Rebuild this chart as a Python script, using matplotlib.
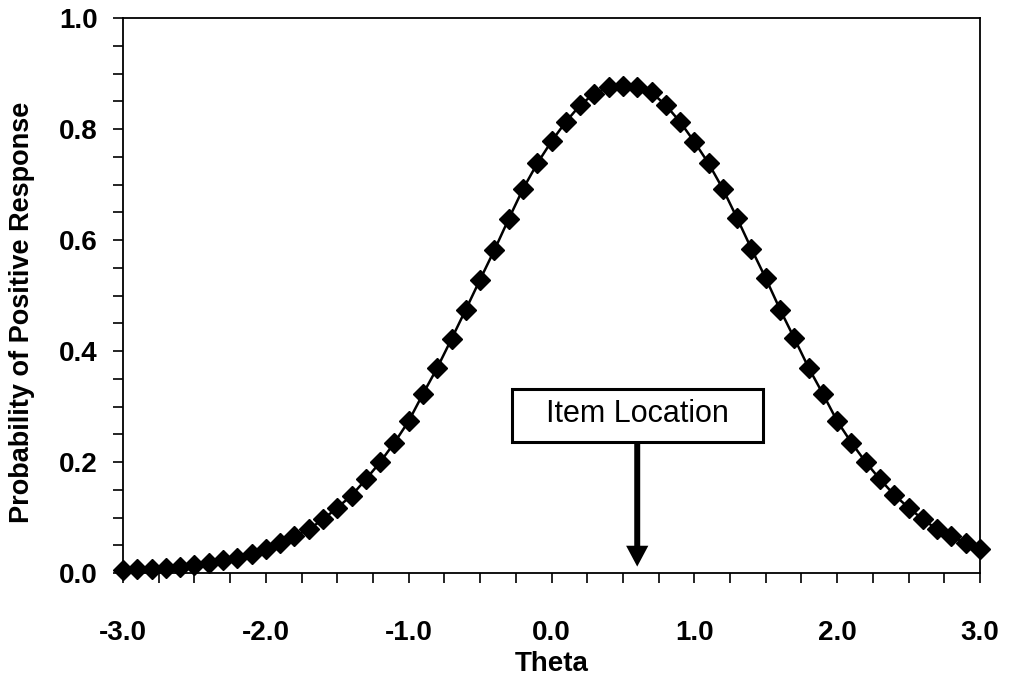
import numpy as np
import matplotlib.pyplot as plt
from matplotlib.patches import Rectangle
from matplotlib.ticker import MultipleLocator, FormatStrFormatter

# theta grid and probabilities
theta = [-3.0, -2.9, -2.8, -2.7, -2.6, -2.5, -2.4, -2.3, -2.2, -2.1,
         -2.0, -1.9, -1.8, -1.7, -1.6, -1.5, -1.4, -1.3, -1.2, -1.1,
         -1.0, -0.9, -0.8, -0.7, -0.6, -0.5, -0.4, -0.3, -0.2, -0.1,
         0.0, 0.1, 0.2, 0.3, 0.4, 0.5, 0.6, 0.7, 0.8, 0.9,
         1.0, 1.1, 1.2, 1.3, 1.4, 1.5, 1.6, 1.7, 1.8, 1.9,
         2.0, 2.1, 2.2, 2.3, 2.4, 2.5, 2.6, 2.7, 2.8, 2.9, 3.0]
prob = [0.006, 0.007, 0.008, 0.010, 0.011, 0.014, 0.019, 0.023, 0.028, 0.035,
        0.044, 0.054, 0.067, 0.079, 0.097, 0.118, 0.140, 0.169, 0.200, 0.235,
        0.274, 0.323, 0.370, 0.422, 0.475, 0.529, 0.582, 0.638, 0.692, 0.738,
        0.778, 0.813, 0.843, 0.864, 0.875, 0.878, 0.875, 0.866, 0.843, 0.813,
        0.777, 0.738, 0.692, 0.639, 0.584, 0.531, 0.475, 0.423, 0.370, 0.323,
        0.274, 0.235, 0.200, 0.169, 0.141, 0.118, 0.097, 0.079, 0.067, 0.054, 0.044]

item_location = 0.6
box_label = "Item Location"

tick_font = ['Liberation Sans Narrow', 'Liberation Sans', 'DejaVu Sans']

fig = plt.figure(figsize=(10.09, 6.8), dpi=100)
ax = fig.add_axes([0.1219, 0.157, 0.8494, 0.8165])

ax.plot(theta, prob, color='black', lw=1.8, marker='D', markersize=10.5,
        clip_on=False, zorder=3)

ax.set_xlim(-3, 3)
ax.set_ylim(0, 1)

ax.xaxis.set_major_locator(MultipleLocator(1.0))
ax.xaxis.set_minor_locator(MultipleLocator(0.25))
ax.yaxis.set_major_locator(MultipleLocator(0.2))
ax.yaxis.set_minor_locator(MultipleLocator(0.05))
ax.xaxis.set_major_formatter(FormatStrFormatter('%.1f'))
ax.yaxis.set_major_formatter(FormatStrFormatter('%.1f'))

ax.tick_params(axis='x', which='both', direction='out', length=7, width=1.2, pad=27)
ax.tick_params(axis='y', which='both', direction='out', length=7, width=1.2, pad=11)
for lab in ax.get_xticklabels() + ax.get_yticklabels():
    lab.set_family(tick_font)
    lab.set_fontweight('bold')
    lab.set_fontsize(20)

for sp in ax.spines.values():
    sp.set_linewidth(1.3)

ax.set_xlabel('Theta', family=tick_font, fontweight='bold', fontsize=20, labelpad=3)
ax.set_ylabel('Probability of Positive Response', family=tick_font,
              fontweight='bold', fontsize=19.5)
ax.yaxis.set_label_coords(-0.103, 0.47)

# annotation: box with label, arrow pointing down to the item location
ax.add_patch(Rectangle((-0.276, 0.236), 1.755, 0.0955, facecolor='white',
                       edgecolor='black', lw=2.2, zorder=4))
ax.text(item_location, 0.286, box_label, ha='center', va='center',
        family=['Liberation Sans', 'DejaVu Sans'], fontsize=22, zorder=5)
ax.annotate('', xy=(item_location, 0.012), xytext=(item_location, 0.236),
            arrowprops=dict(width=4.3, headwidth=16, headlength=15,
                            facecolor='black', edgecolor='black', lw=0,
                            shrink=0), zorder=4)

fig.savefig('out.png', dpi=100)
